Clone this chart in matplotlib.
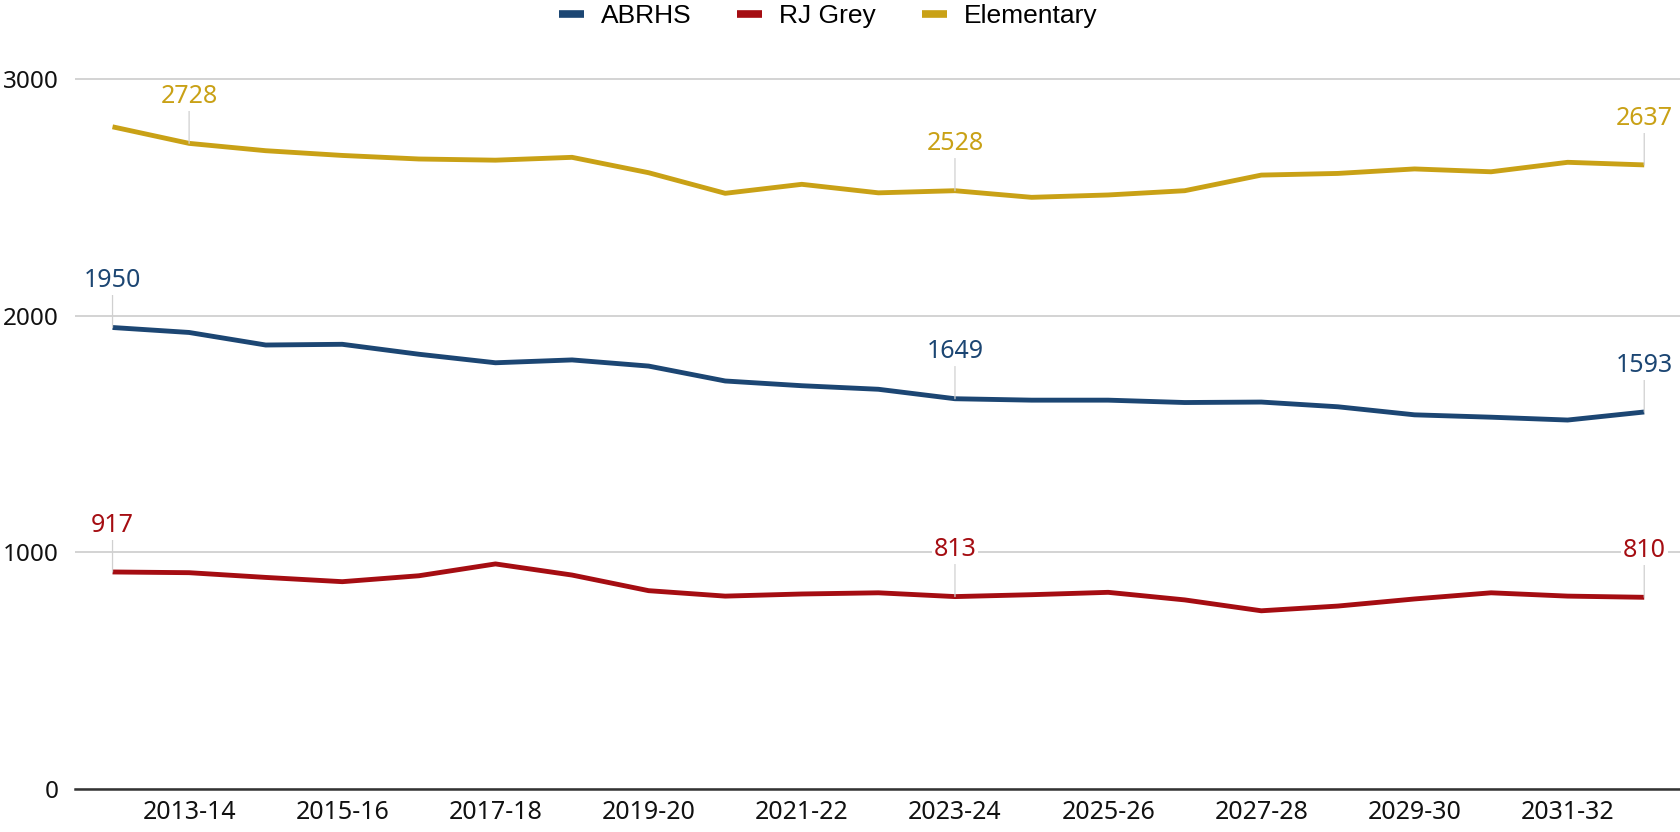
import matplotlib
matplotlib.use('Agg')
import matplotlib.pyplot as plt
from matplotlib.lines import Line2D

# school years, 2012-13 .. 2032-33
years = ['2012-13', '2013-14', '2014-15', '2015-16', '2016-17', '2017-18', '2018-19',
         '2019-20', '2020-21', '2021-22', '2022-23', '2023-24', '2024-25', '2025-26',
         '2026-27', '2027-28', '2028-29', '2029-30', '2030-31', '2031-32', '2032-33']

abrhs = [1950, 1929, 1876, 1879, 1837, 1801, 1813, 1787, 1724, 1704, 1689,
         1649, 1643, 1643, 1633, 1635, 1615, 1581, 1571, 1559, 1593]
rjgrey = [917, 914, 894, 876, 901, 951, 904, 838, 815, 824, 829,
          813, 821, 831, 799, 753, 773, 803, 829, 815, 810]
elementary = [2798, 2728, 2697, 2677, 2662, 2657, 2669, 2604, 2517, 2555, 2519,
              2528, 2500, 2510, 2528, 2594, 2601, 2620, 2608, 2648, 2637]

series_names = ['ABRHS', 'RJ Grey', 'Elementary']
colors = ['#1c4673', '#a50d12', '#c9a116']
label_points = [[0, 11, 20], [0, 11, 20], [1, 11, 20]]

yticks = [0, 1000, 2000, 3000]

W, H = 1681, 832
fig = plt.figure(figsize=(W / 100, H / 100), dpi=100)
ymax = 3020
ax = fig.add_axes([75 / W, 43 / H, 1606 / W, 710 * ymax / 3000 / H])

x = list(range(len(years)))
for name, vals, c in zip(series_names, [abrhs, rjgrey, elementary], colors):
    ax.plot(x, vals, color=c, lw=3.5, solid_joinstyle='round', solid_capstyle='butt',
            zorder=3, label=name)

# data labels with thin leader lines
for vals, c, idxs in zip([abrhs, rjgrey, elementary], colors, label_points):
    for i in idxs:
        ax.annotate(str(vals[i]), xy=(i, vals[i]), xytext=(0, 29),
                    textcoords='offset points', ha='center', va='baseline',
                    color=c, fontsize=18, family=['Noto Sans', 'DejaVu Sans'],
                    bbox=dict(fc='white', ec='none', pad=1.5),
                    arrowprops=dict(arrowstyle='-', color='#d0d0d0', lw=0.9,
                                    shrinkA=0, shrinkB=0),
                    zorder=4)

ax.set_xlim(-0.49, 20.48)
ax.set_ylim(0, ymax)
ax.set_yticks(yticks)
ax.set_yticklabels([str(v) for v in yticks], fontsize=17.5,
                   family=['Noto Sans', 'DejaVu Sans'], color='#111111')
tick_idx = x[1::2]
ax.set_xticks(tick_idx)
ax.set_xticklabels([years[i] for i in tick_idx], fontsize=18,
                   family=['Noto Sans', 'DejaVu Sans'], color='#111111')
ax.tick_params(axis='y', length=0, pad=11.5)
ax.tick_params(axis='x', length=0, pad=8)

ax.grid(axis='y', color='#cccccc', lw=1.2, zorder=1)
ax.set_axisbelow(True)
for s in ['top', 'right', 'left']:
    ax.spines[s].set_visible(False)
ax.spines['bottom'].set_color('#333333')
ax.spines['bottom'].set_linewidth(1.8)
ax.spines['bottom'].set_zorder(2)

handles = [Line2D([0], [0], color=c, lw=5.5, solid_capstyle='butt') for c in colors]
fig.legend(handles, series_names, loc='center', ncol=3, frameon=False,
           bbox_to_anchor=(828 / W, 1 - 16 / H),
           prop={'family': ['Liberation Sans', 'DejaVu Sans'], 'size': 19},
           handlelength=0.95, handletextpad=0.64, columnspacing=1.74)

fig.savefig('out.png', dpi=100)
